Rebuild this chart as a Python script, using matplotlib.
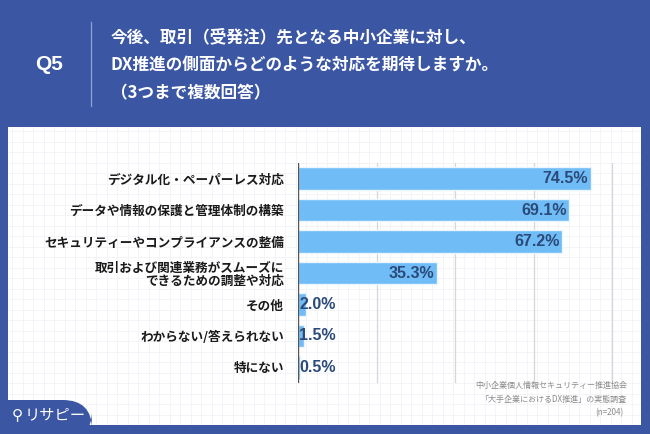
import matplotlib
matplotlib.use("Agg")
import matplotlib.pyplot as plt
from matplotlib.patches import Rectangle, FancyBboxPatch
from matplotlib.lines import Line2D

plt.rcParams['font.family'] = ['Noto Sans CJK JP', 'DejaVu Sans']

categories = [
    "デジタル化・ペーパーレス対応",
    "データや情報の保護と管理体制の構築",
    "セキュリティーやコンプライアンスの整備",
    "取引および関連業務がスムーズに\nできるための調整や対応",
    "その他",
    "わからない/答えられない",
    "特にない",
]
values = [74.5, 69.1, 67.2, 35.3, 2.0, 1.5, 0.5]
value_labels = ["74.5%", "69.1%", "67.2%", "35.3%", "2.0%", "1.5%", "0.5%"]

title_q = "Q5"
title_lines = [
    "今後、取引（受発注）先となる中小企業に対し、",
    "DX推進の側面からどのような対応を期待しますか。",
    "（3つまで複数回答）",
]
source_lines = [
    "中小企業個人情報セキュリティー推進協会",
    "「大手企業におけるDX推進」の実態調査",
    "(n=204)",
]
logo_text = "リサピー"

W, H = 650, 434
BLUE = "#3B56A3"
BAR = "#6FBCF6"
NAVY = "#2B4A78"

fig = plt.figure(figsize=(W / 100, H / 100), dpi=100)
fig.patch.set_facecolor(BLUE)

def fx(px):
    return px / W

def fy(py):
    return 1 - py / H

# white panel
panel_l, panel_r, panel_t, panel_b = 8, 641, 127, 425
fig.patches.append(Rectangle((fx(panel_l), fy(panel_b)), fx(panel_r - panel_l),
                             (panel_b - panel_t) / H, transform=fig.transFigure,
                             facecolor="white", edgecolor="none", zorder=-5))

# faint graph-paper grid in the panel
bg = fig.add_axes([fx(panel_l), fy(panel_b), fx(panel_r - panel_l), (panel_b - panel_t) / H])
bg.set_zorder(-3)
bg.set_xlim(panel_l, panel_r)
bg.set_ylim(panel_b, panel_t)
bg.axis("off")
bg.patch.set_alpha(0)
step = 10.5
x = panel_l + 4
while x < panel_r:
    bg.axvline(x, color="#F1F3F6", lw=0.6, zorder=0)
    x += step
y = panel_t + 4
while y < panel_b:
    bg.axhline(y, color="#F1F3F6", lw=0.6, zorder=0)
    y += step

# main chart axes
ax_l, ax_r, ax_t, ax_b = 298, 641, 163, 383
ax = fig.add_axes([fx(ax_l), fy(ax_b), fx(ax_r - ax_l), (ax_b - ax_t) / H])
ax.patch.set_alpha(0)
n = len(categories)
ypos = list(range(n))
ax.barh(ypos, values, height=0.72, color=BAR, edgecolor="#EAF5FE", linewidth=1.0, zorder=3)
ax.set_xlim(0, 87.3)
ax.set_ylim(n - 0.5, -0.5)
for gx in [20, 40, 60, 80]:
    ax.axvline(gx, color="#D6D6D6", lw=0.9, zorder=1)
ax.axvline(0, color="#555555", lw=1.0, zorder=4)
for s in ax.spines.values():
    s.set_visible(False)
ax.set_xticks([])
ax.set_yticks(ypos)
ax.set_yticklabels(categories, fontsize=9.1, fontweight="bold", color="#1a1a1a",
                   linespacing=1.0)
ax.tick_params(axis="y", length=0, pad=10)

for yi, v, lab in zip(ypos, values, value_labels):
    if v > 10:
        ax.text(v - 0.6, yi, lab, ha="right", va="center", fontsize=11.5,
                fontweight="bold", family=["Liberation Sans", "DejaVu Sans"],
                color=NAVY, zorder=5)
    else:
        ax.text(0.3, yi, lab, ha="left", va="center", fontsize=11.5,
                fontweight="bold", family=["Liberation Sans", "DejaVu Sans"],
                color=NAVY, zorder=5)

# header
fig.text(fx(49), fy(65), title_q, ha="center", va="center", fontsize=15,
         fontweight="bold", color="white", family=["Liberation Sans", "DejaVu Sans"])
fig.add_artist(Line2D([fx(91), fx(91)], [fy(22), fy(106)], color="#8FA3D3", lw=0.9,
                      transform=fig.transFigure))
title_y = [37, 65, 93]
for t, ty in zip(title_lines, title_y):
    fig.text(fx(111), fy(ty), t, ha="left", va="center", fontsize=12,
             fontweight="bold", color="white")

# source
src_y = [385, 399, 413]
src_x = [627, 627, 623]
for t, sx, sy in zip(source_lines, src_x, src_y):
    fig.text(fx(sx), fy(sy), t, ha="right", va="center", fontsize=5.8, color="#8A8A8A")

# logo tab bottom-left
tab = FancyBboxPatch((fx(-20), fy(440)), fx(112), (440 - 400) / H,
                     boxstyle="round,pad=0,rounding_size=0.045",
                     transform=fig.transFigure, facecolor=BLUE, edgecolor="none",
                     mutation_aspect=W / H, zorder=2)
fig.patches.append(tab)
fig.text(fx(17), fy(415), "⚲", ha="center", va="center", fontsize=11, color="white",
         family=["DejaVu Sans"], zorder=3)
fig.text(fx(25), fy(415), logo_text, ha="left", va="center", fontsize=11,
         color="white", zorder=3)

fig.savefig("out.png", dpi=100, facecolor=BLUE)
